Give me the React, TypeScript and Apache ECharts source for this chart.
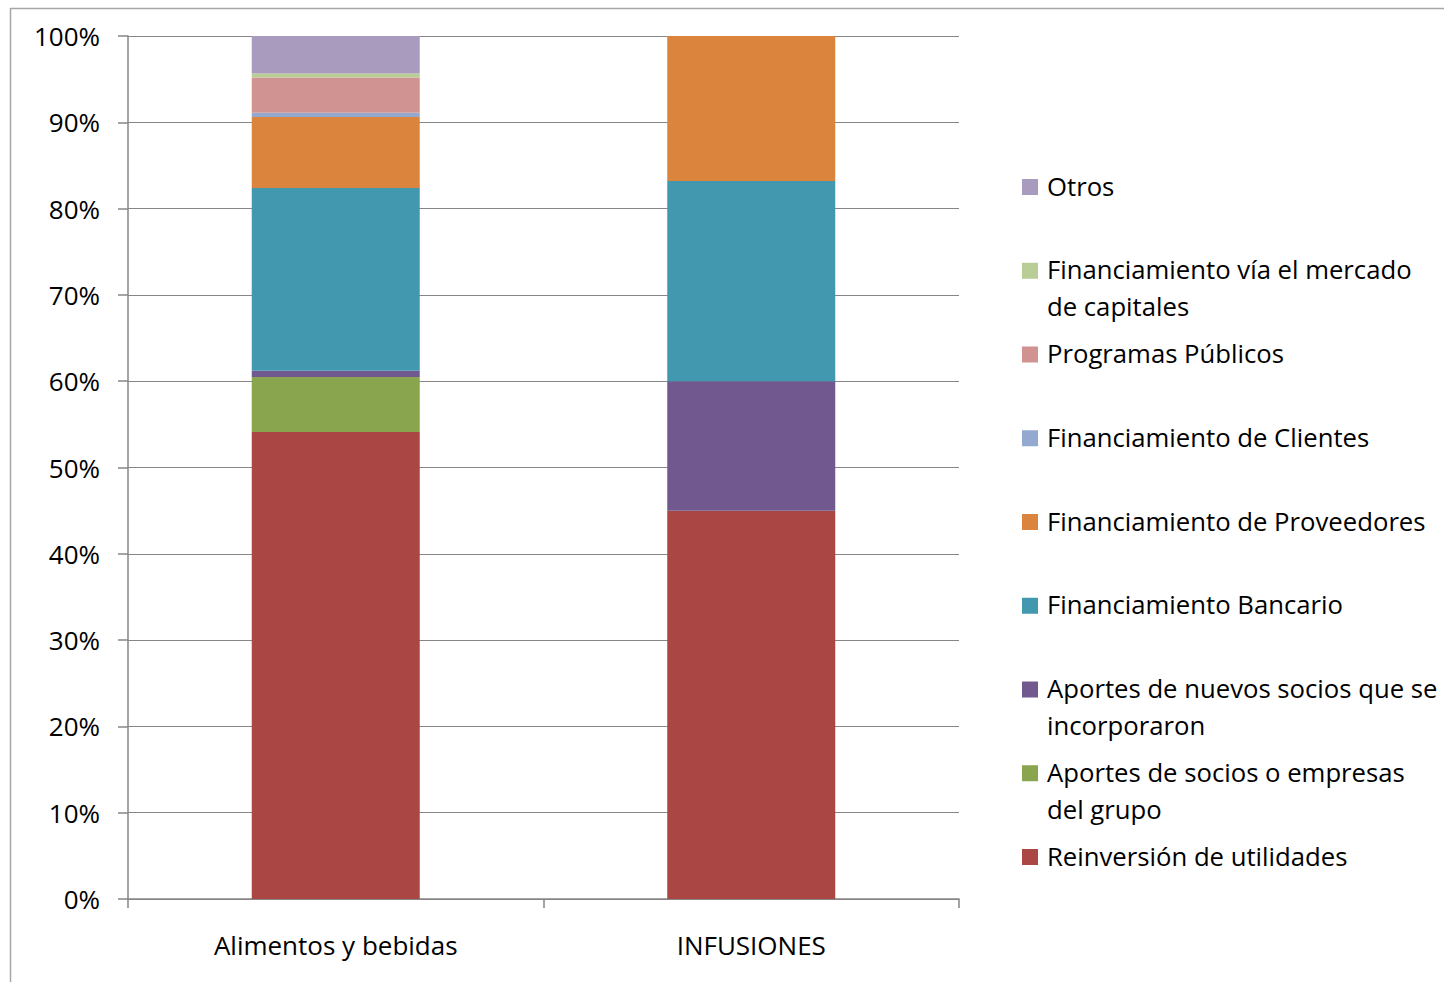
import React, { useEffect, useRef } from "react";
import * as echarts from "echarts";

const categories = ["Alimentos y bebidas", "INFUSIONES"];
const seriesNames = [
  "Reinversión de utilidades",
  "Aportes de socios o empresas del grupo",
  "Aportes de nuevos socios que se incorporaron",
  "Financiamiento Bancario",
  "Financiamiento de Proveedores",
  "Financiamiento de Clientes",
  "Programas Públicos",
  "Financiamiento vía el mercado de capitales",
  "Otros",
];
const legendLabels = [
  "Reinversión de utilidades",
  "Aportes de socios o empresas\ndel grupo",
  "Aportes de nuevos socios que se\nincorporaron",
  "Financiamiento Bancario",
  "Financiamiento de Proveedores",
  "Financiamiento de Clientes",
  "Programas Públicos",
  "Financiamiento vía el mercado\nde capitales",
  "Otros",
];
const colors = [
  "#AA4643",
  "#89A54E",
  "#71588F",
  "#4198AF",
  "#DB843D",
  "#93A9CF",
  "#D19392",
  "#B9CD96",
  "#A99BBD",
];
const alimentosValues = [54.1, 6.4, 0.7, 21.2, 8.2, 0.5, 4.1, 0.45, 4.35];
const infusionesValues = [45.0, 0, 15.0, 23.2, 16.8, 0, 0, 0, 0];
const yTicks = [0, 10, 20, 30, 40, 50, 60, 70, 80, 90, 100];

const FONT = "'Open Sans'";

export default function App() {
  const ref = useRef<HTMLDivElement>(null);
  useEffect(() => {
    if (!ref.current) return;
    const chart = echarts.init(ref.current, null, { renderer: "svg" });
    const gray = "#868686";
    const series = seriesNames.map((name, i) => ({
      name,
      type: "bar",
      stack: "total",
      barWidth: 168,
      itemStyle: { color: colors[i] },
      data: [alimentosValues[i], infusionesValues[i]],
    }));
    const legendGraphics: any[] = [];
    const order = [...seriesNames.keys()].reverse();
    order.forEach((si, k) => {
      const cy = 187 + k * 83.75;
      legendGraphics.push({
        type: "rect",
        shape: { x: 1022, y: cy - 8, width: 16, height: 16 },
        style: { fill: colors[si] },
      });
      legendGraphics.push({
        type: "text",
        x: 1047,
        y: cy - 19.5,
        style: {
          text: legendLabels[si],
          fill: "#000",
          font: `25.7px ${FONT}`,
          lineHeight: 37,
          verticalAlign: "top",
          align: "left",
        },
      });
    });
    chart.setOption({
      animation: false,
      textStyle: { fontFamily: FONT },
      grid: { left: 128, right: 1444 - 959, top: 36, bottom: 982 - 899, containLabel: false },
      xAxis: {
        type: "category",
        data: categories,
        axisLine: { lineStyle: { color: gray, width: 1.5 } },
        axisTick: { show: true, length: 9, lineStyle: { color: gray, width: 1.5 } },
        axisLabel: { color: "#000", fontSize: 26, fontFamily: FONT, margin: 33 },
      },
      yAxis: {
        type: "value",
        min: 0,
        max: 100,
        interval: 10,
        axisLine: { show: true, lineStyle: { color: gray, width: 1.5 } },
        axisTick: { show: true, length: 10, lineStyle: { color: gray, width: 1.5 } },
        splitLine: { show: true, lineStyle: { color: gray, width: 1 } },
        axisLabel: {
          color: "#000",
          fontSize: 26,
          fontFamily: FONT,
          margin: 28,
          formatter: (v: number) => (yTicks.includes(v) ? `${v}%` : ""),
        },
      },
      series,
      graphic: [
        {
          type: "line",
          shape: { x1: 10, y1: 8.5, x2: 1444, y2: 8.5 },
          style: { stroke: "#a6a6a6", lineWidth: 1.5 },
        },
        {
          type: "line",
          shape: { x1: 10.5, y1: 8, x2: 10.5, y2: 982 },
          style: { stroke: "#a6a6a6", lineWidth: 1.5 },
        },
        ...legendGraphics,
      ],
    });
    return () => chart.dispose();
  }, []);
  return (
    <div
      ref={ref}
      style={{ position: "absolute", left: 0, top: 0, width: 1444, height: 982, background: "#fff" }}
    />
  );
}
